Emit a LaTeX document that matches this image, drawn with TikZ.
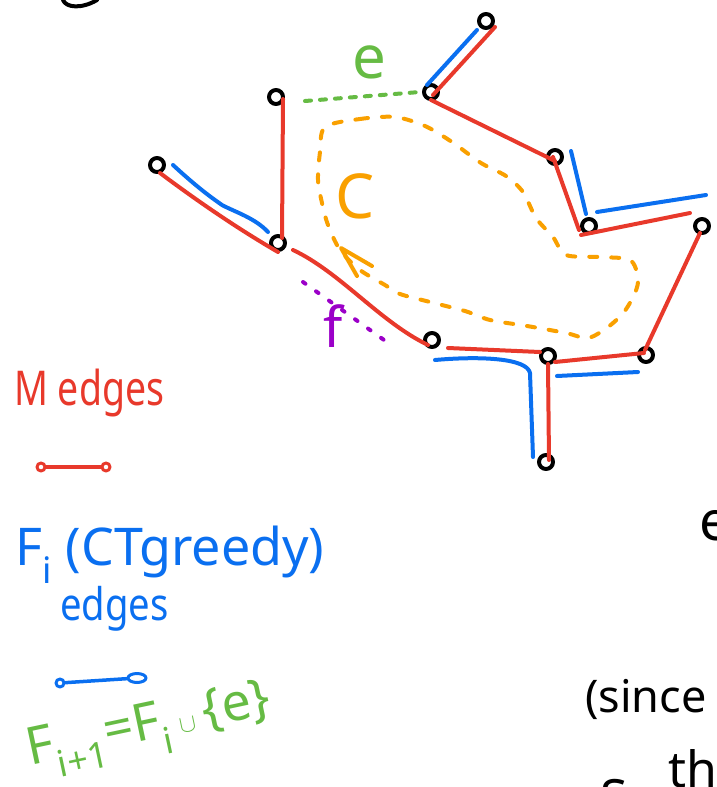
\documentclass[tikz,border=0pt]{standalone}
\usepackage{fontspec}
\setmainfont{Noto Sans}
\usetikzlibrary{shapes.geometric}
\definecolor{mred}{HTML}{E8392B}
\definecolor{fblue}{HTML}{0A6FF0}
\definecolor{egreen}{HTML}{66BB44}
\definecolor{corange}{HTML}{F9A000}
\definecolor{fpurple}{HTML}{9B00C8}

\begin{document}
\begin{tikzpicture}[x=1pt,y=-1pt,line cap=round,line join=round,
  vtx/.style={circle,draw,line width=4pt,inner sep=0pt,minimum size=14pt},
  lvtx/.style={circle,draw,line width=3pt,inner sep=0pt,minimum size=8pt},
  medge/.style={mred,line width=4pt},
  fedge/.style={fblue,line width=4pt},
  eedge/.style={egreen,line width=4pt,dash pattern=on 6pt off 9pt},
  cutf/.style={fpurple,line width=4pt,dash pattern=on 3pt off 13pt},
  cyc/.style={corange,line width=4pt,dash pattern=on 8pt off 14pt},
  hand/.style={font=\fontsize{#1}{#1}\selectfont,inner sep=0pt}]
\useasboundingbox (0,0) rectangle (716,787);
\clip (0,0) rectangle (716,787);
\node [vtx] (a) at (486,21) {};
\node [vtx] (b) at (431,92) {};
\node [vtx] (c) at (276,97) {};
\node [vtx] (d) at (157,165) {};
\node [vtx] (g) at (278,243) {};
\node [vtx] (h) at (555,157) {};
\node [vtx] (k) at (589,226) {};
\node [vtx] (l) at (702,226) {};
\node [vtx] (p) at (432,340) {};
\node [vtx] (q) at (548,356) {};
\node [vtx] (r) at (646,355) {};
\node [vtx] (s) at (546,462) {};
\draw [cyc] plot [smooth cycle] coordinates {(325,127) (360,119) (395,117) (425,126) (452,142)
  (481,163) (506,176) (523,192) (536,218) (553,237) (566,255) (600,257) (630,260) (638,278)
  (635,293) (624,312) (608,327) (588,338) (566,333) (527,326) (490,320) (465,311) (430,302)
  (400,294) (385,285) (360,270) (340,250) (328,225) (322,203) (318,180) (320,152)};
\draw [corange,line width=4pt] (357,276) -- (341,248) -- (372,266);
\node [hand=62,text=corange] (clab) at (355,196) {C};
\draw [medge] ([shift={(2,3)}]b.center) -- ([shift={(9,6)}]a.center);
\draw [medge] ([shift={(0,8)}]b.center) -- ([shift={(0,4)}]h.center);
\draw [medge] ([shift={(-2,0)}]h.center) -- ([shift={(-10,4)}]k.center);
\draw [medge] ([shift={(-8,9)}]k.center) -- ([shift={(-12,-13)}]l.center);
\draw [medge] ([shift={(7,2)}]c.center) -- ([shift={(4,-5)}]g.center);
\draw [medge] ([shift={(3,8)}]d.center) .. controls (200,203) and (240,230) .. ([shift={(0,9)}]g.center);
\draw [medge] ([shift={(15,7)}]g.center) .. controls (340,272) and (380,322) .. ([shift={(-4,5)}]p.center);
\draw [medge] ([shift={(16,8)}]p.center) -- ([shift={(-8,-4)}]q.center);
\draw [medge] ([shift={(7,6)}]q.center) -- ([shift={(-2,-2)}]r.center);
\draw [medge] ([shift={(-1,-5)}]r.center) -- ([shift={(-2,7)}]l.center);
\draw [medge] ([shift={(0,8)}]q.center) -- ([shift={(3,-2)}]s.center);
\draw [fedge] ([shift={(-4,-7)}]b.center) -- ([shift={(-9,9)}]a.center);
\draw [fedge] ([shift={(16,-6)}]h.center) -- ([shift={(-3,-12)}]k.center);
\draw [fedge] ([shift={(8,-14)}]k.center) -- ([shift={(4,-31)}]l.center);
\draw [fedge] ([shift={(16,0)}]d.center) .. controls (200,190) and (215,200) .. (222,205)
  .. controls (235,212) and (255,218) .. ([shift={(-10,-11)}]g.center);
\draw [fedge] ([shift={(3,20)}]p.center) .. controls (480,356) and (527,358) .. ([shift={(-18,17)}]q.center)
  -- ([shift={(-13,-5)}]s.center);
\draw [fedge] ([shift={(9,20)}]q.center) -- ([shift={(-8,17)}]r.center);
\draw [eedge] ([shift={(29,4)}]c.center) -- ([shift={(-11,0)}]b.center);
\node [hand=60,text=egreen] (elab) at (369,62) {e};
\coordinate (fa) at (303,282);
\coordinate (fb) at (391,345);
\draw [cutf] (fa) -- (fb);
\node [hand=56,text=fpurple] (flab) at (333,326) {f};
\node [hand=48,text=mred,anchor=base west] (mtxt) at (14,405) {\scalebox{0.78}[1]{M edges}};
\node [lvtx,mred] (m1) at (41,467) {};
\node [lvtx,mred] (m2) at (106,467) {};
\draw [medge,line width=3.5pt] (m1) -- (m2);
\node [hand=52,text=fblue,anchor=base west] (ftxt) at (15,565) {F\textsubscript{i} (CTgreedy)};
\node [hand=45,text=fblue,anchor=base west] (fedges) at (60,620) {\scalebox{0.85}[1]{edges}};
\node [lvtx,fblue] (f1) at (60,683) {};
\node [lvtx,fblue,ellipse,minimum width=18pt,minimum height=9pt] (f2) at (137,678) {};
\draw [fedge,line width=3.5pt] (f1) -- (f2);
\node [hand=52,text=egreen,rotate=12] (nexttxt) at (150,730) {F\textsubscript{i+1}=F\textsubscript{i}\,$\cup$\,\{e\}};
\node [hand=45,anchor=base west] (since) at (585,712) {(since};
\node [hand=55,anchor=base west] (eright) at (699,540) {e};
\node [hand=50,anchor=base west] (sbot) at (600,815) {S};
\node [hand=50,anchor=base west] (thbot) at (668,787) {th};
\draw [line width=4pt] (63,0) .. controls (66,8) and (82,9) .. (97,0);
\end{tikzpicture}
\end{document}
